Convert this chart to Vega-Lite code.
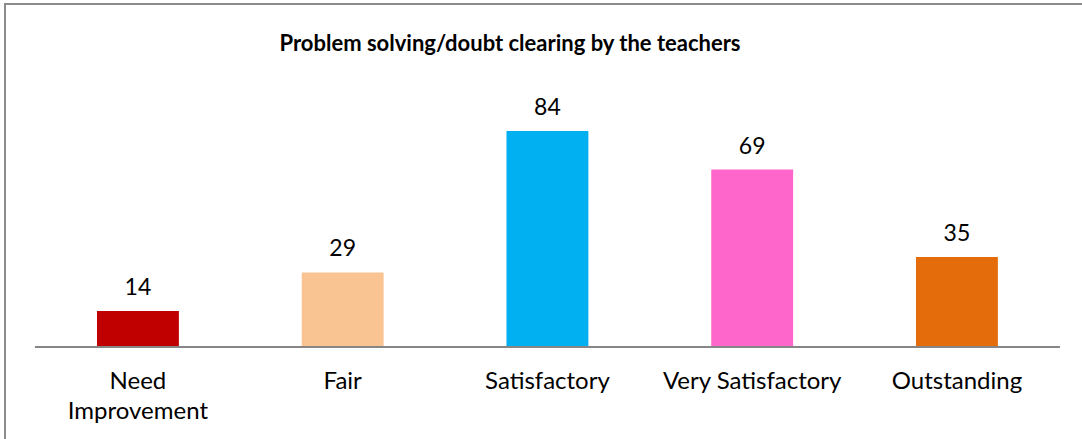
{
  "$schema": "https://vega.github.io/schema/vega-lite/v6.json",
  "autosize": "none",
  "padding": {"left": 5, "top": 4, "right": 0, "bottom": 0},
  "width": 1100,
  "height": 450,
  "background": "white",
  "config": {
    "view": {"stroke": "#8c8c8c", "strokeWidth": 2},
    "font": "Lato"
  },
  "title": {
    "text": "Problem solving/doubt clearing by the teachers",
    "font": "Lato",
    "fontSize": 22,
    "fontWeight": "bold",
    "color": "#000000",
    "anchor": "middle",
    "frame": "group",
    "dx": -45,
    "offset": -52
  },
  "data": {
    "values": [
      {"category": "Need Improvement", "value": 14},
      {"category": "Fair", "value": 29},
      {"category": "Satisfactory", "value": 84},
      {"category": "Very Satisfactory", "value": 69},
      {"category": "Outstanding", "value": 35}
    ]
  },
  "encoding": {
    "x": {
      "field": "category",
      "type": "nominal",
      "sort": null,
      "scale": {"paddingInner": 0.6, "paddingOuter": 0.4862, "align": 0.462},
      "axis": {
        "title": null,
        "orient": "bottom",
        "offset": -107,
        "domain": false,
        "ticks": false,
        "labelAngle": 0,
        "labelFont": "Lato",
        "labelFontSize": 24,
        "labelColor": "#000000",
        "labelPadding": 22,
        "labelLineHeight": 30,
        "labelExpr": "datum.label == 'Need Improvement' ? ['Need', 'Improvement'] : datum.label"
      }
    }
  },
  "layer": [
    {
      "mark": {"type": "bar"},
      "encoding": {
        "y": {
          "field": "value",
          "type": "quantitative",
          "scale": {"domain": [-41.6, 133.4], "nice": false, "zero": false},
          "axis": null
        },
        "y2": {"datum": 0},
        "color": {
          "field": "category",
          "type": "nominal",
          "sort": null,
          "scale": {
            "domain": ["Need Improvement", "Fair", "Satisfactory", "Very Satisfactory", "Outstanding"],
            "range": ["#C00000", "#F9C392", "#00B0F0", "#FF66CC", "#E46C0A"]
          },
          "legend": null
        }
      }
    },
    {
      "mark": {"type": "text", "baseline": "alphabetic", "dy": -16, "fontSize": 23, "font": "Lato", "color": "#000000"},
      "encoding": {
        "y": {"field": "value", "type": "quantitative"},
        "text": {"field": "value", "type": "quantitative"}
      }
    },
    {
      "data": {"values": [{"from": "Need Improvement", "to": "Outstanding", "base": 0}]},
      "mark": {"type": "rule", "color": "#868686", "strokeWidth": 2, "xOffset": -103, "x2Offset": 103},
      "encoding": {
        "x": {"field": "from", "type": "nominal"},
        "x2": {"field": "to"},
        "y": {"field": "base", "type": "quantitative"}
      }
    }
  ]
}
